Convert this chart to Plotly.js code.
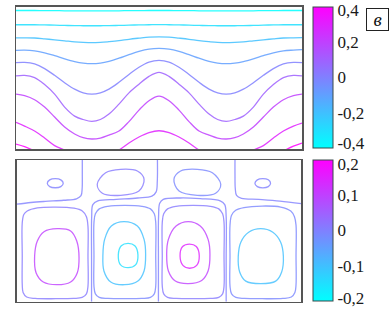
<!DOCTYPE html>
<html>
<head>
<meta charset="utf-8">
<script src="https://cdn.plot.ly/plotly-3.0.1.min.js"></script>
<style>html,body{margin:0;padding:0;background:#fff}#chart{width:390px;height:319px}</style>
</head>
<body>
<div id="chart"></div>
<script>
// ---------- Top panel: wavy isolines (x in 0..2, y in 0..1) ----------
const topX = [0,0.06,0.13,0.2,0.27,0.34,0.41,0.47,0.53,0.59,0.65,0.72,0.79,0.86,0.93,1.0,1.07,1.14,1.21,1.28,1.35,1.41,1.47,1.53,1.59,1.66,1.73,1.8,1.87,1.94,2.0];
const topLevels = [-0.4,-0.3,-0.2,-0.1,0,0.1,0.2,0.3,0.4];
const topL1 = [0.972,0.972,0.972,0.971,0.971,0.970,0.969,0.969,0.969,0.969,0.969,0.970,0.971,0.971,0.972,0.972,0.972,0.971,0.971,0.970,0.969,0.969,0.969,0.969,0.969,0.970,0.971,0.971,0.972,0.972,0.972];
const topL2 = [0.872,0.872,0.872,0.871,0.869,0.867,0.866,0.865,0.865,0.865,0.866,0.867,0.869,0.871,0.872,0.873,0.872,0.871,0.869,0.867,0.866,0.865,0.865,0.865,0.866,0.867,0.869,0.871,0.872,0.872,0.872];
const topL3 = [0.780,0.780,0.779,0.773,0.766,0.759,0.752,0.748,0.746,0.748,0.753,0.760,0.770,0.778,0.785,0.787,0.785,0.778,0.770,0.760,0.753,0.748,0.746,0.748,0.752,0.759,0.766,0.773,0.779,0.780,0.781];
const topL4 = [0.692,0.694,0.689,0.675,0.655,0.633,0.614,0.603,0.599,0.603,0.615,0.637,0.662,0.685,0.701,0.706,0.701,0.685,0.662,0.637,0.615,0.603,0.599,0.603,0.614,0.633,0.655,0.675,0.689,0.694,0.697];
const topL5 = [0.606,0.608,0.597,0.564,0.517,0.465,0.420,0.394,0.385,0.394,0.420,0.468,0.523,0.574,0.610,0.622,0.610,0.574,0.523,0.468,0.420,0.394,0.385,0.394,0.420,0.465,0.517,0.564,0.597,0.608,0.606];
const topL6 = [0.513,0.517,0.501,0.452,0.385,0.294,0.231,0.207,0.194,0.207,0.245,0.315,0.394,0.455,0.510,0.538,0.510,0.455,0.394,0.315,0.245,0.207,0.194,0.207,0.231,0.294,0.385,0.452,0.501,0.517,0.513];
const topL7 = [0.385,0.374,0.346,0.294,0.224,0.154,0.105,0.079,0.070,0.077,0.098,0.126,0.192,0.273,0.339,0.371,0.339,0.273,0.192,0.126,0.098,0.077,0.070,0.079,0.105,0.154,0.224,0.294,0.346,0.374,0.385];
const topL8 = [0.187,0.161,0.126,0.077,0.024,-0.007,-0.035,-0.049,-0.056,-0.049,-0.035,-0.007,0.042,0.084,0.115,0.128,0.115,0.084,0.042,-0.007,-0.035,-0.049,-0.056,-0.049,-0.035,-0.007,0.024,0.077,0.126,0.161,0.182];
const topL9 = [0.035,0.017,-0.014,-0.049,-0.077,-0.100,-0.120,-0.125,-0.125,-0.125,-0.120,-0.100,-0.080,-0.060,-0.045,-0.035,-0.045,-0.060,-0.080,-0.100,-0.120,-0.125,-0.125,-0.125,-0.120,-0.100,-0.077,-0.049,-0.014,0.020,0.042];
const topTickVals = [-0.372,-0.2,0,0.2,0.383];
const topTickText = ['-0,4','-0,2','0','0,2','0,4'];

// ---------- Bottom panel: convection cells (x in 0..2, y in 0..1) ----------
const botTickVals = [-0.192,-0.1,0,0.1,0.188];
const botTickText = ['-0,2','-0,1','0','0,1','0,2'];

const sepAX = [0.461,0.461,0.460,0.452,0.42,0.33,0.2,0.1,0.0];
const sepAY = [1.0,0.90,0.80,0.748,0.726,0.716,0.708,0.700,0.688];
const sepBX = [0.526,0.526,0.527,0.535,0.57,0.70,0.85,0.95,0.980,0.988,0.989];
const sepBY = [0,0.3,0.6,0.685,0.712,0.722,0.732,0.745,0.775,0.85,1.0];
const sepCX = [0.996,0.996,0.997,1.005,1.03,1.15,1.29,1.43,1.462,1.472,1.472,1.472];
const sepCY = [0,0.3,0.6,0.695,0.722,0.732,0.727,0.712,0.685,0.6,0.3,0];
const sepDX = [1.534,1.534,1.536,1.545,1.58,1.70,1.85,2.0];
const sepDY = [1.0,0.9,0.80,0.750,0.730,0.722,0.710,0.692];

const c1oX = [0.039,0.039,0.050,0.074,0.145,0.274,0.403,0.461,0.490,0.501,0.501,0.501,0.490,0.460,0.400,0.274,0.130,0.070,0.045,0.039,0.039];
const c1oY = [0.322,0.557,0.615,0.640,0.662,0.668,0.660,0.640,0.600,0.530,0.322,0.110,0.055,0.030,0.023,0.021,0.023,0.033,0.065,0.120,0.322];
const c2oX = [0.543,0.543,0.553,0.580,0.640,0.760,0.880,0.940,0.967,0.977,0.977,0.977,0.967,0.940,0.880,0.760,0.640,0.580,0.553,0.543,0.543];
const c2oY = [0.322,0.560,0.620,0.655,0.673,0.680,0.673,0.655,0.620,0.560,0.322,0.110,0.055,0.030,0.023,0.021,0.023,0.030,0.055,0.110,0.322];
const c3oX = [1.023,1.023,1.033,1.060,1.120,1.240,1.360,1.420,1.447,1.457,1.457,1.457,1.447,1.420,1.360,1.240,1.120,1.060,1.033,1.023,1.023];
const c3oY = [0.322,0.560,0.620,0.655,0.673,0.680,0.673,0.655,0.620,0.560,0.322,0.110,0.055,0.030,0.023,0.021,0.023,0.030,0.055,0.110,0.322];
const c4oX = [1.499,1.499,1.510,1.539,1.597,1.726,1.855,1.926,1.952,1.963,1.963,1.963,1.955,1.930,1.870,1.726,1.600,1.540,1.510,1.499,1.499];
const c4oY = [0.322,0.540,0.610,0.645,0.664,0.675,0.668,0.640,0.600,0.540,0.322,0.120,0.065,0.033,0.023,0.021,0.023,0.030,0.055,0.110,0.322];

const c1iX = [0.438,0.426,0.379,0.281,0.187,0.136,0.126,0.145,0.192,0.285,0.379,0.422,0.438];
const c1iY = [0.311,0.205,0.139,0.120,0.139,0.205,0.322,0.428,0.494,0.515,0.499,0.428,0.311];
const c2iX = [0.906,0.895,0.852,0.759,0.661,0.613,0.606,0.618,0.665,0.754,0.848,0.895,0.906];
const c2iY = [0.335,0.217,0.146,0.120,0.139,0.217,0.335,0.440,0.534,0.565,0.534,0.440,0.335];
const c3iX = [1.358,1.345,1.300,1.206,1.115,1.066,1.054,1.066,1.120,1.206,1.290,1.345,1.358];
const c3iY = [0.335,0.217,0.150,0.128,0.146,0.217,0.335,0.440,0.534,0.565,0.534,0.440,0.335];
const c4iX = [1.874,1.862,1.820,1.715,1.610,1.567,1.557,1.575,1.630,1.715,1.800,1.855,1.874];
const c4iY = [0.320,0.210,0.145,0.127,0.145,0.210,0.320,0.420,0.490,0.515,0.490,0.420,0.320];

const c2cX = [0.852,0.835,0.783,0.730,0.714,0.735,0.783,0.830,0.852];
const c2cY = [0.330,0.260,0.240,0.260,0.330,0.395,0.412,0.395,0.330];
const c3cX = [1.283,1.265,1.215,1.168,1.148,1.166,1.215,1.262,1.283];
const c3cY = [0.322,0.256,0.236,0.256,0.322,0.390,0.407,0.390,0.322];

const ov1X = [0.327,0.310,0.271,0.232,0.215,0.232,0.271,0.310,0.327];
const ov1Y = [0.836,0.812,0.804,0.812,0.836,0.860,0.868,0.860,0.836];
const ov2X = [0.895,0.859,0.731,0.602,0.566,0.625,0.731,0.848,0.895];
const ov2Y = [0.864,0.781,0.751,0.765,0.829,0.910,0.934,0.922,0.864];
const ov3X = [1.105,1.141,1.269,1.398,1.434,1.375,1.269,1.152,1.105];
const ov3Y = [0.864,0.781,0.751,0.765,0.829,0.910,0.934,0.922,0.864];
const ov4X = [1.784,1.768,1.729,1.691,1.674,1.691,1.729,1.768,1.784];
const ov4Y = [0.836,0.812,0.803,0.812,0.836,0.860,0.869,0.860,0.836];

// [x, y, level]
const botLines = [
  [sepAX,sepAY,0],[sepBX,sepBY,0],[sepCX,sepCY,0],[sepDX,sepDY,0],
  [c1oX,c1oY,0.01],[c2oX,c2oY,-0.01],[c3oX,c3oY,0.01],[c4oX,c4oY,-0.01],
  [c1iX,c1iY,0.1],[c2iX,c2iY,-0.1],[c3iX,c3iY,0.1],[c4iX,c4iY,-0.1],
  [c2cX,c2cY,-0.15],[c3cX,c3cY,0.15],
  [ov1X,ov1Y,0],[ov2X,ov2Y,0.01],[ov3X,ov3Y,-0.01],[ov4X,ov4Y,0]
];

// ---------- styling ----------
const coolScale = [[0,'rgb(0,255,255)'],[0.5,'rgb(128,128,255)'],[1,'rgb(255,0,255)']];
function cool(v,min,max){
  const t = Math.max(0,Math.min(1,(v-min)/(max-min)));
  return 'rgb('+Math.round(255*t)+','+Math.round(255*(1-t))+',255)';
}
const W = 390, H = 319;
const tickFont = {family:'Liberation Serif, Times New Roman, serif', size:17, color:'#1a1a1a'};
const traces = [];
const topLines = [topL1,topL2,topL3,topL4,topL5,topL6,topL7,topL8,topL9];
topLines.forEach((ys,i)=>{
  traces.push({type:'scatter',mode:'lines',x:topX,y:ys,xaxis:'x',yaxis:'y',
    line:{color:cool(topLevels[i],-0.4,0.4),width:1.3,shape:'spline',smoothing:1},
    opacity:0.85,hoverinfo:'skip',showlegend:false});
});
botLines.forEach(([xs,ys,lv])=>{
  traces.push({type:'scatter',mode:'lines',x:xs,y:ys,xaxis:'x2',yaxis:'y2',
    line:{color:cool(lv,-0.2,0.2),width:1.3,shape:'spline',smoothing:1},
    opacity:0.8,hoverinfo:'skip',showlegend:false});
});
function cbTrace(levels,min,max,ax,ay,yTopPx,yBotPx,tv,tt){
  return {type:'scatter',mode:'markers',x:levels.map(()=>null),y:levels.map(()=>null),
    xaxis:ax,yaxis:ay,hoverinfo:'skip',showlegend:false,
    marker:{color:levels,cmin:min,cmax:max,colorscale:coolScale,showscale:true,size:1,
      colorbar:{x:312.5/W,xanchor:'left',y:1-yTopPx/H,yanchor:'top',len:(yBotPx-yTopPx)/H,lenmode:'fraction',
        thickness:20,thicknessmode:'pixels',xpad:0,ypad:0,outlinewidth:1,outlinecolor:'#3a4a4a',
        tickvals:tv,ticktext:tt,ticks:'',ticklen:0,tickfont:tickFont,borderwidth:0,
        ticklabeloverflow:'allow'}}};
}
traces.push(cbTrace(topLevels,-0.4,0.4,'x','y',7,148,topTickVals,topTickText));
traces.push(cbTrace(topLevels,-0.2,0.2,'x2','y2',160,300.7,botTickVals,botTickText));

const axBase = {showgrid:false,zeroline:false,showticklabels:false,ticks:'',showline:true,mirror:true,
  linecolor:'#555',linewidth:1.5,fixedrange:true};
const layout = {
  width:W,height:H,margin:{l:0,r:0,t:0,b:0},paper_bgcolor:'#fff',plot_bgcolor:'#fff',
  showlegend:false,
  xaxis: Object.assign({},axBase,{domain:[16/W,302/W],range:[0,2],anchor:'y'}),
  yaxis: Object.assign({},axBase,{domain:[1-149/H,1-6.5/H],range:[0,1],anchor:'x'}),
  xaxis2:Object.assign({},axBase,{domain:[16.7/W,301.3/W],range:[0,2],anchor:'y2'}),
  yaxis2:Object.assign({},axBase,{domain:[1-301.7/H,1-160/H],range:[0,1],anchor:'x2'}),
  annotations:[{xref:'paper',yref:'paper',x:377/W,y:1-20/H,xanchor:'center',yanchor:'middle',
    text:'<i>в</i>',showarrow:false,font:{family:'Liberation Serif, Times New Roman, serif',size:19,color:'#111'},
    bordercolor:'#222',borderwidth:1,borderpad:2,bgcolor:'#fff',width:17,height:17}]
};
Plotly.newPlot('chart',traces,layout,{staticPlot:true,displayModeBar:false});
</script>
</body>
</html>
